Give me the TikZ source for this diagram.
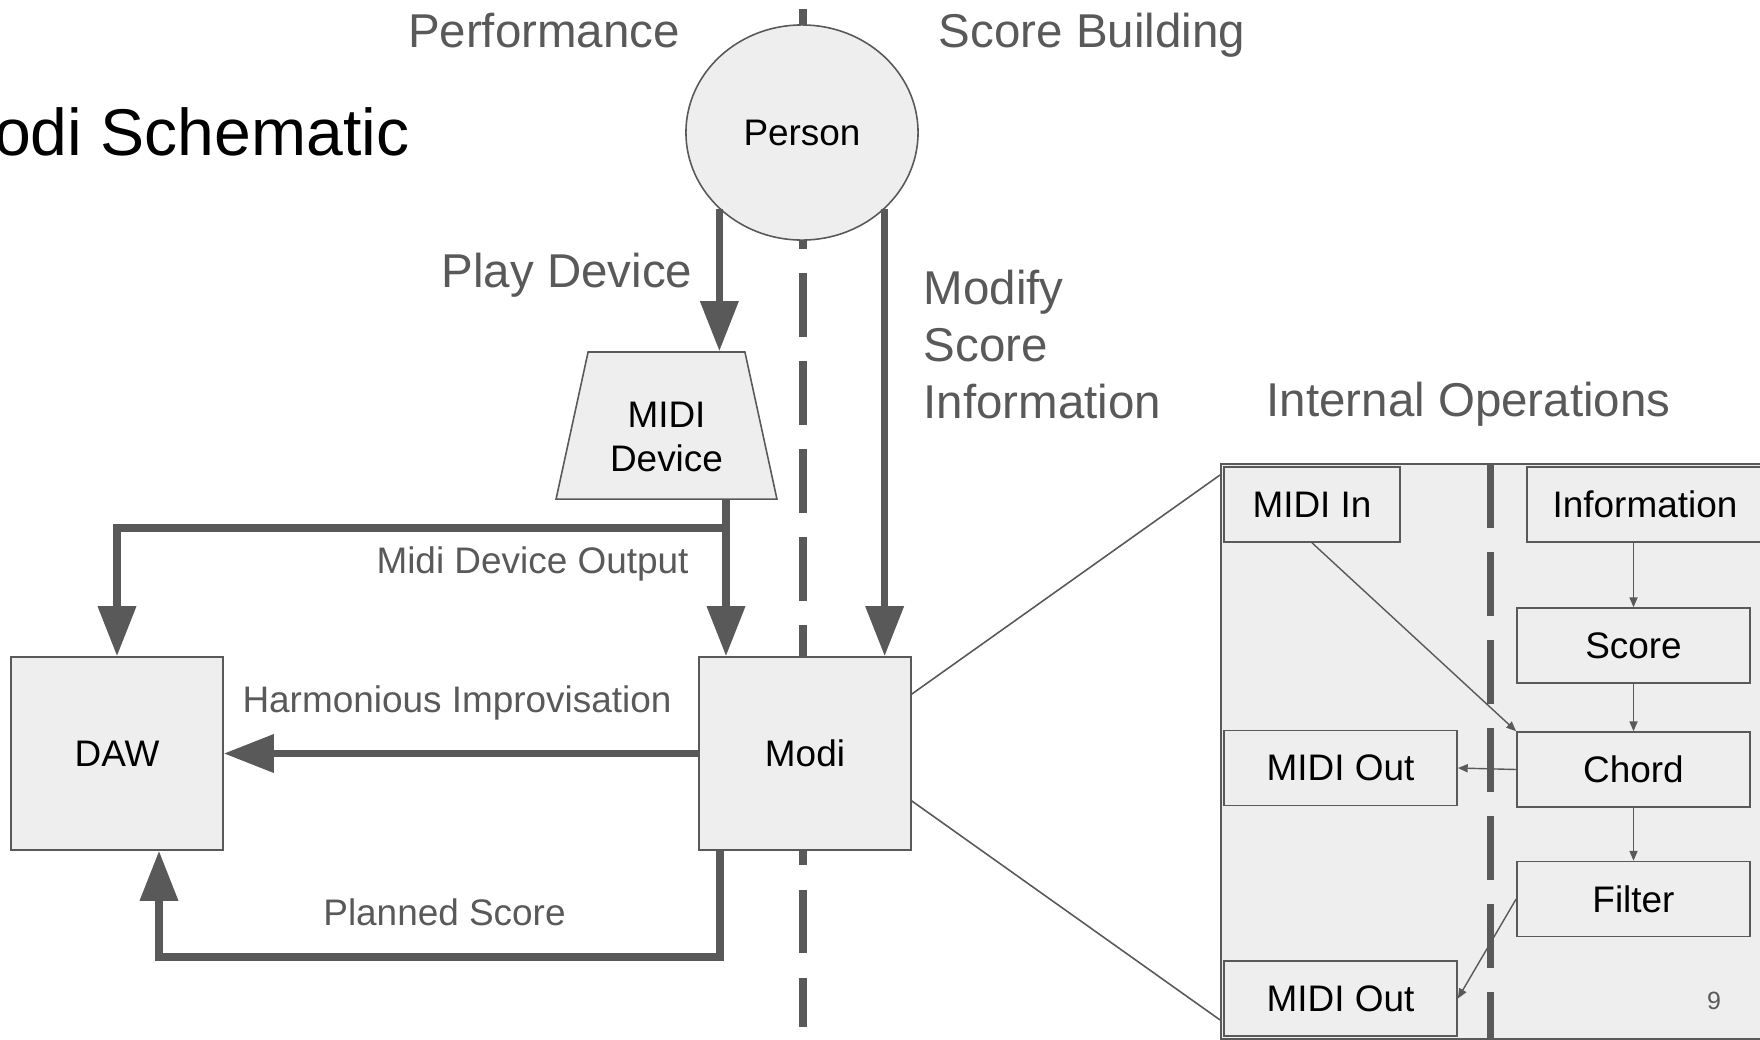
\documentclass[tikz,border=0pt]{standalone}
\usepackage{fontspec}
\setmainfont{Liberation Sans}
\usetikzlibrary{arrows.meta,positioning,calc,shapes.geometric}
\definecolor{ink}{HTML}{595959}
\definecolor{paper}{HTML}{EEEEEE}

\begin{document}
\begin{tikzpicture}[x=0.01cm,y=-0.01cm,
    box/.style={draw=ink,line width=0.45pt,fill=paper,inner sep=0pt,font=\fontsize{10.5}{12.5}\selectfont},
    bigtext/.style={text=ink,inner sep=0pt,font=\fontsize{13.5}{16.2}\selectfont},
    smalltext/.style={text=ink,inner sep=0pt,font=\fontsize{10.5}{12.5}\selectfont},
    arrow/.style={draw=ink,line width=2pt,-{Triangle[length=14.2pt,width=10.5pt]}},
    link/.style={draw=ink,line width=0.4pt,-{Triangle[length=2.8pt,width=2.3pt]}},
    divider/.style={draw=ink,line width=2pt,dash pattern=on 18.07pt off 6.97pt}]
    \useasboundingbox (0,0) rectangle (1760,1039);
    \draw[divider] (803,9) -- (803,1027);
    \node[anchor=base east,inner sep=0pt,font=\fontsize{18.8}{22}\selectfont] (title) at (410,155) {Modi Schematic};
    \node[bigtext,anchor=base] (perf) at (544,47) {Performance};
    \node[bigtext,anchor=base] (build) at (1092,47) {Score Building};
    \node[box,ellipse,minimum width=2.32cm,minimum height=2.15cm] (person) at (802,132.5) {Person};
    \node[box,trapezium,trapezium stretches=true,trapezium left angle=76,trapezium right angle=76,
        minimum width=2.21cm,minimum height=1.47cm,align=center] (device) at (666.5,425.5) {\rule{0pt}{13.7pt}MIDI\\Device};
    \node[box,minimum width=2.12cm,minimum height=1.93cm] (daw) at (117,753.5) {DAW};
    \node[box,minimum width=2.12cm,minimum height=1.93cm] (modi) at (805,753.5) {Modi};
    \draw[arrow] (person.south west) -- (person.south west |- device.north);
    \draw[arrow] (person.south east) -- (person.south east |- modi.north);
    \coordinate (split) at (726,528);
    \draw[arrow] (split |- device.south) -- (split |- modi.north);
    \draw[arrow] (split) -| (daw.north);
    \draw[arrow] (modi.west) -- (daw.east);
    \coordinate (back) at (720,957);
    \draw[arrow] (back |- modi.south) -- (back) -| ($(daw.south)+(42,0)$);
    \node[bigtext,anchor=base] (play) at (567,287) {Play Device};
    \node[bigtext,anchor=base west,align=left] (modify) at (923,418) {Modify\\Score\\Information};
    \node[smalltext,anchor=base] (output) at (532.5,573) {Midi Device Output};
    \node[smalltext,anchor=base] (harmony) at (457,712) {Harmonious Improvisation};
    \node[smalltext,anchor=base] (planned) at (444.5,925) {Planned Score};
    \node[bigtext,anchor=base] (internal) at (1468.5,416) {Internal Operations};
    \node[box,anchor=north west,minimum width=5.6cm,minimum height=5.75cm] (ops) at (1220,463) {};
    \draw[ink,line width=0.45pt] ($(modi.east)+(0,-59.5)$) -- ($(ops.north west)+(0,12)$);
    \draw[ink,line width=0.45pt] ($(modi.east)+(0,47.5)$) -- ($(ops.south west)+(0,-20)$);
    \draw[divider] (1490.5,464) -- (1490.5,1039);
    \foreach \n/\x/\y/\w/\t in {midiin/1312/504.5/1.76/MIDI In,info/1645/504.5/2.36/Information,
        score/1633.5/645.5/2.33/Score,chord/1633.5/769.5/2.33/Chord,filter/1633.5/899/2.33/Filter,
        outa/1340.5/768/2.33/MIDI Out,outb/1340.5/998.5/2.33/MIDI Out}
        \node[box,minimum width=\w cm,minimum height=0.75cm] (\n) at (\x,\y) {\t};
    \draw[link] (info.south -| score.north) -- (score.north);
    \foreach \a/\b in {score/chord,chord/filter}
        \draw[link] (\a.south) -- (\b.north);
    \draw[link] (chord.west) -- (outa.east);
    \draw[link] (midiin.south) -- (chord.north west);
    \draw[link] (filter.west) -- (outb.east);
    \node[text=ink,inner sep=0pt,font=\fontsize{7.1}{8}\selectfont] (page) at (1714,1001) {9};
\end{tikzpicture}
\end{document}
